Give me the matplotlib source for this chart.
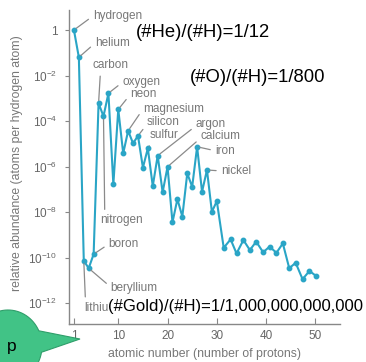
import numpy as np
import matplotlib
matplotlib.use("Agg")
import matplotlib.pyplot as plt
from matplotlib.path import Path
from matplotlib.patches import PathPatch
from matplotlib.ticker import NullLocator

W, H = 366, 362

# atomic number and log10 of abundance relative to hydrogen
atomic_number = list(range(1, 31)) + [31.4, 32.8, 34.0, 35.4, 36.7, 38.0, 39.4, 40.7,
                                      42.1, 43.4, 44.7, 46.0, 47.4, 48.8, 50.1]
log_abundance = [0.0, -1.2, -10.14, -10.47, -9.85, -3.22, -3.79, -2.78, -6.78, -3.49,
                 -5.42, -4.43, -4.98, -4.65, -6.05, -5.2, -6.86, -5.52, -7.13, -6.01,
                 -8.45, -7.43, -8.2, -6.3, -6.89, -5.13, -7.11, -6.15, -7.99, -7.52,
                 -9.57, -9.2, -9.82, -9.23, -9.67, -9.3, -9.77, -9.52, -9.79, -9.38,
                 -10.47, -10.23, -10.95, -10.59, -10.8]

element_names = ["hydrogen", "helium", "lithium", "beryllium", "boron", "carbon",
                 "nitrogen", "oxygen", "neon", "magnesium", "silicon", "sulfur",
                 "argon", "calcium", "iron", "nickel"]
element_z = [1, 2, 3, 4, 5, 6, 7, 8, 10, 12, 14, 16, 18, 20, 26, 28]

ytick_exp = [0, -2, -4, -6, -8, -10, -12]
xtick_vals = [1, 10, 20, 30, 40, 50]

ratio_notes = ["(#He)/(#H)=1/12", "(#O)/(#H)=1/800", "(#Gold)/(#H)=1/1,000,000,000,000"]

# label placement: offset in pixels, horizontal alignment, leader attach point on text
label_style = {
    "hydrogen": (19, 14, "left", (0, 0.5)),
    "helium": (16, 14, "left", (0, 0.5)),
    "carbon": (12, 38, "center", (0.22, 0)),
    "nitrogen": (-3, -104, "left", (0.1, 1)),
    "oxygen": (14, 11, "left", (0, 0.5)),
    "neon": (12, 15, "left", (0, 0.5)),
    "magnesium": (15, 22, "left", (0, 0.5)),
    "silicon": (9, 14, "left", (0, 0.3)),
    "sulfur": (2, 13, "left", (0.08, 0)),
    "argon": (38, 32, "left", (0, 0.3)),
    "calcium": (33, 31, "left", (0, 0.3)),
    "iron": (18, -4, "left", (0, 0.5)),
    "nickel": (14, -1, "left", (0, 0.5)),
    "boron": (15, 10, "left", (0, 0.5)),
    "beryllium": (22, -20, "left", (0, 0.6)),
    "lithium": (0, -47, "left", (0.05, 1)),
}

plt.rcParams["font.family"] = ["Liberation Sans", "DejaVu Sans"]
plt.rcParams["mathtext.default"] = "regular"

LINE = "#2aa5c6"
GREY = "#777777"


def px(x, y):
    # pixel position (origin top-left) -> figure fraction
    return x / W, 1 - y / H


fig = plt.figure(figsize=(W / 100, H / 100), dpi=100)
ax = fig.add_axes([69 / W, 1 - 324 / H, 271 / W, 314 / H])

abundance = 10.0 ** np.array(log_abundance)
ax.plot(atomic_number, abundance, color=LINE, lw=1.5, marker="o", ms=3.2,
        mec=LINE, mfc=LINE, zorder=3)

ax.set_yscale("log")
ax.set_ylim(10 ** -12.92, 10 ** 0.88)
ax.set_xlim(0, 55)
ax.set_yticks([10.0 ** e for e in ytick_exp])
ax.set_yticklabels(["1" if e == 0 else rf"$10^{{{e}}}$" for e in ytick_exp])
ax.yaxis.set_minor_locator(NullLocator())
ax.set_xticks(xtick_vals)
ax.set_xticklabels([str(v) for v in xtick_vals])

for s in ("top", "right"):
    ax.spines[s].set_visible(False)
for s in ("left", "bottom"):
    ax.spines[s].set_color("#888888")
    ax.spines[s].set_linewidth(1.0)

ax.tick_params(axis="y", direction="out", length=3, width=0.8, color="#888888",
               pad=5.5, labelsize=8.5, labelcolor="#666666")
ax.tick_params(axis="x", direction="in", length=4, width=0.8, color="#888888",
               pad=4, labelsize=8.5, labelcolor="#666666")

ax.set_ylabel("relative abundance (atoms per hydrogen atom)", fontsize=8.8,
              color=GREY, va="center")
ax.yaxis.set_label_coords(-0.192, 0.513)
ax.set_xlabel("atomic number (number of protons)", fontsize=8.8, color=GREY,
              va="center")
ax.xaxis.set_label_coords(0.5, -0.096)

# element names with grey leader lines
for name, z in zip(element_names, element_z):
    i = atomic_number.index(z)
    dx, dy, ha, rel = label_style[name]
    ax.annotate(name, xy=(z, abundance[i]), xytext=(dx, dy),
                textcoords="offset pixels", ha=ha, va="center",
                fontsize=8.5, color=GREY, zorder=4,
                arrowprops=dict(arrowstyle="-", color="#8a8a8a", lw=0.9,
                                relpos=rel, shrinkA=1.5, shrinkB=2))

# ratio notes
fig.text(*px(136, 37), ratio_notes[0], fontsize=13.3, color="black", va="baseline")
fig.text(*px(190, 82), ratio_notes[1], fontsize=13.3, color="black", va="baseline")
fig.text(*px(108, 311), ratio_notes[2], fontsize=12, color="black", va="baseline",
         bbox=dict(facecolor="white", edgecolor="none", pad=0), zorder=5)

# speech bubble in the lower-left corner
cx, cy, rx, ry = 8, 346, 34, 36
theta = np.radians(np.linspace(25, 350, 80))
bx = cx + rx * np.cos(theta)
by = cy - ry * np.sin(theta)
verts = [px(x, y) for x, y in zip(bx, by)] + [px(80, 339), px(bx[0], by[0])]
codes = [Path.MOVETO] + [Path.LINETO] * (len(verts) - 2) + [Path.CLOSEPOLY]
bubble = PathPatch(Path(verts, codes), transform=fig.transFigure,
                   facecolor="#41c386", edgecolor="#2f9e6a", lw=0.8, zorder=6)
fig.add_artist(bubble)
fig.text(*px(7, 351), "p", fontsize=12.5, color="black", va="baseline", zorder=7)

fig.savefig("out.png", dpi=100)
